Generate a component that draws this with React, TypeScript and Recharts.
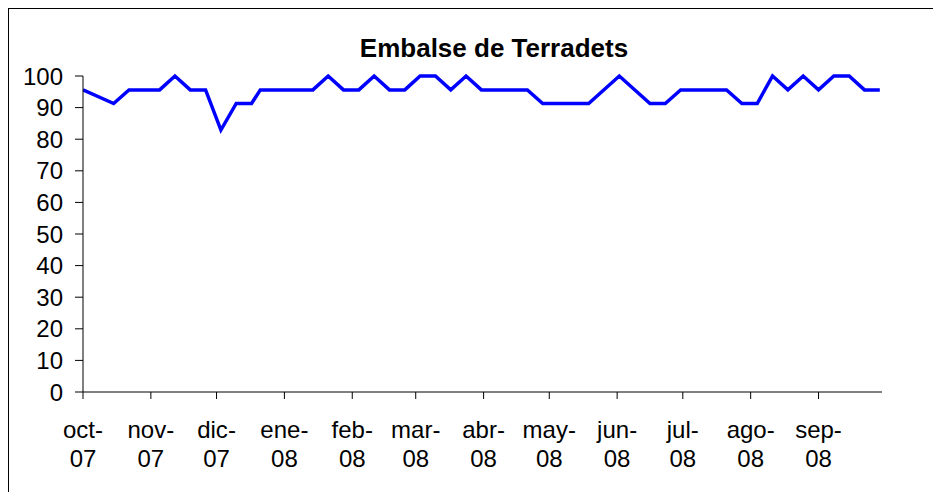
import { LineChart, Line, XAxis, YAxis } from 'recharts';

// weekly readings, % of capacity
const dates = [
  '2007-10-01', '2007-10-15', '2007-10-22', '2007-10-29', '2007-11-05', '2007-11-12',
  '2007-11-19', '2007-11-26', '2007-12-03', '2007-12-10', '2007-12-17', '2007-12-21',
  '2008-01-04', '2008-01-14', '2008-01-21', '2008-01-28', '2008-02-04', '2008-02-11',
  '2008-02-18', '2008-02-25', '2008-03-03', '2008-03-10', '2008-03-17', '2008-03-24',
  '2008-03-31', '2008-04-07', '2008-04-14', '2008-04-21', '2008-04-28', '2008-05-05',
  '2008-05-12', '2008-05-19', '2008-06-02', '2008-06-16', '2008-06-23', '2008-06-30',
  '2008-07-07', '2008-07-14', '2008-07-21', '2008-07-28', '2008-08-04', '2008-08-11',
  '2008-08-18', '2008-08-25', '2008-09-01', '2008-09-08', '2008-09-15', '2008-09-22',
  '2008-09-29',
];

const levels = [
  95.6, 91.3, 95.6, 95.6, 95.6, 100,
  95.6, 95.6, 82.9, 91.3, 91.3, 95.6,
  95.6, 95.6, 100, 95.6, 95.6, 100,
  95.6, 95.6, 100, 100, 95.6, 100,
  95.6, 95.6, 95.6, 95.6, 91.3, 91.3,
  91.3, 91.3, 100, 91.3, 91.3, 95.6,
  95.6, 95.6, 95.6, 91.3, 91.3, 100,
  95.6, 100, 95.6, 100, 100, 95.6,
  95.6,
];

const monthStarts = [
  '2007-10-01', '2007-11-01', '2007-12-01', '2008-01-01', '2008-02-01', '2008-03-01',
  '2008-04-01', '2008-05-01', '2008-06-01', '2008-07-01', '2008-08-01', '2008-09-01',
];

const tickLabels = [
  'oct-07', 'nov-07', 'dic-07', 'ene-08', 'feb-08', 'mar-08',
  'abr-08', 'may-08', 'jun-08', 'jul-08', 'ago-08', 'sep-08',
];

const yTicks = [0, 10, 20, 30, 40, 50, 60, 70, 80, 90, 100];

const toTime = (s: string) => {
  const [y, m, d] = s.split('-').map(Number);
  return Date.UTC(y, m - 1, d);
};

const data = dates.map((d, i) => ({ t: toTime(d), nivel: levels[i] }));
const tickTimes = monthStarts.map(toTime);

const FONT = '"Liberation Sans", Arial, sans-serif';

const MonthTick = (props: any) => {
  const { x, y, payload } = props;
  const idx = tickTimes.indexOf(payload.value);
  const label = tickLabels[idx] ?? '';
  const [mon, yr] = label.split('-');
  return (
    <g>
      <text x={x} y={y + 39} textAnchor="middle" fill="#000" fontSize={24} fontFamily={FONT}>
        {mon}-
      </text>
      <text x={x} y={y + 68} textAnchor="middle" fill="#000" fontSize={24} fontFamily={FONT}>
        {yr}
      </text>
    </g>
  );
};

export default function App() {
  return (
    <div
      style={{
        position: 'relative',
        width: 929,
        height: 500,
        border: '1px solid #000',
        background: '#fff',
        fontFamily: FONT,
      }}
    >
      <div
        style={{
          position: 'absolute',
          left: 485,
          top: 26,
          transform: 'translateX(-50%)',
          whiteSpace: 'nowrap',
          fontSize: 26,
          lineHeight: '26px',
          fontWeight: 'bold',
          color: '#000',
        }}
      >
        Embalse de Terradets
      </div>
      <LineChart
        width={929}
        height={483}
        data={data}
        margin={{ top: 67, right: 56, left: 0, bottom: 0 }}
      >
        <XAxis
          dataKey="t"
          type="number"
          scale="time"
          domain={[toTime('2007-10-01'), toTime('2008-09-30')]}
          ticks={tickTimes}
          interval={0}
          tick={<MonthTick />}
          tickSize={7}
          tickMargin={0}
          height={100}
          stroke="#000"
          allowDataOverflow
        />
        <YAxis
          domain={[0, 100]}
          ticks={yTicks}
          interval={0}
          width={74}
          tickSize={8}
          tickMargin={12}
          stroke="#000"
          tick={{ fill: '#000', fontSize: 24, fontFamily: FONT }}
        />
        <Line
          type="linear"
          dataKey="nivel"
          stroke="#0000FF"
          strokeWidth={3.5}
          dot={false}
          isAnimationActive={false}
        />
      </LineChart>
    </div>
  );
}
